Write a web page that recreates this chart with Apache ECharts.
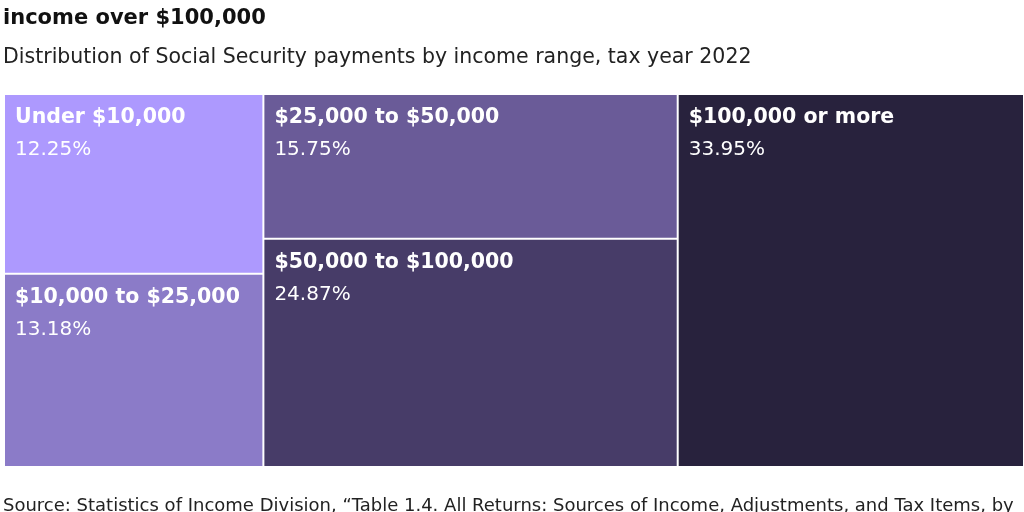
<!DOCTYPE html>
<html>
<head>
<meta charset="utf-8">
<script src="https://cdn.jsdelivr.net/npm/echarts@6/dist/echarts.min.js"></script>
<style>html,body{margin:0;padding:0;background:#fff;}#c{width:1024px;height:512px;}</style>
</head>
<body>
<div id="c"></div>
<script>
const categories = ['Under $10,000', '$10,000 to $25,000', '$25,000 to $50,000', '$50,000 to $100,000', '$100,000 or more'];
const shares = [12.25, 13.18, 15.75, 24.87, 33.95];
const colors = ['#ad99fe', '#8b7bc8', '#6a5b98', '#473c68', '#28223d'];
const titleText = 'income over $100,000';
const subtitleText = 'Distribution of Social Security payments by income range, tax year 2022';
const sourceText = 'Source: Statistics of Income Division, \u201cTable 1.4. All Returns: Sources of Income, Adjustments, and Tax Items, by';

const FONT = '"DejaVu Sans", sans-serif';
const chart = echarts.init(document.getElementById('c'), null, {renderer: 'canvas'});
chart.setOption({
  backgroundColor: '#fff',
  animation: false,
  title: [
    {text: titleText, left: 3, top: 8, padding: 0,
     textStyle: {fontFamily: FONT, fontWeight: 'bold', fontSize: 21, color: '#111'}},
    {text: subtitleText, left: 3, top: 47, padding: 0,
     textStyle: {fontFamily: FONT, fontWeight: 'normal', fontSize: 20.5, color: '#222'}},
    {text: sourceText, left: 3, top: 497, padding: 0,
     textStyle: {fontFamily: FONT, fontWeight: 'normal', fontSize: 18, color: '#222'}}
  ],
  series: [{
    type: 'treemap',
    left: 5, top: 95, width: 1018, height: 371,
    sort: false,
    squareRatio: 1.5,
    roam: false,
    nodeClick: false,
    breadcrumb: {show: false},
    itemStyle: {borderWidth: 0, gapWidth: 2, borderColor: '#fff'},
    levels: [
      {itemStyle: {borderWidth: 0, gapWidth: 2, borderColor: '#fff'}},
      {itemStyle: {borderWidth: 0}}
    ],
    label: {
      show: true,
      position: 'insideTopLeft',
      padding: [8, 0, 0, 10],
      formatter: p => '{n|' + p.name + '}\n{v|' + p.value.toFixed(2) + '%}',
      rich: {
        n: {fontFamily: FONT, fontWeight: 'bold', fontSize: 20.5, color: '#fff', lineHeight: 30},
        v: {fontFamily: FONT, fontWeight: 'normal', fontSize: 20, color: '#fff', lineHeight: 34}
      }
    },
    data: categories.map((c, i) => ({name: c, value: shares[i], itemStyle: {color: colors[i]}}))
  }]
});
</script>
</body>
</html>
